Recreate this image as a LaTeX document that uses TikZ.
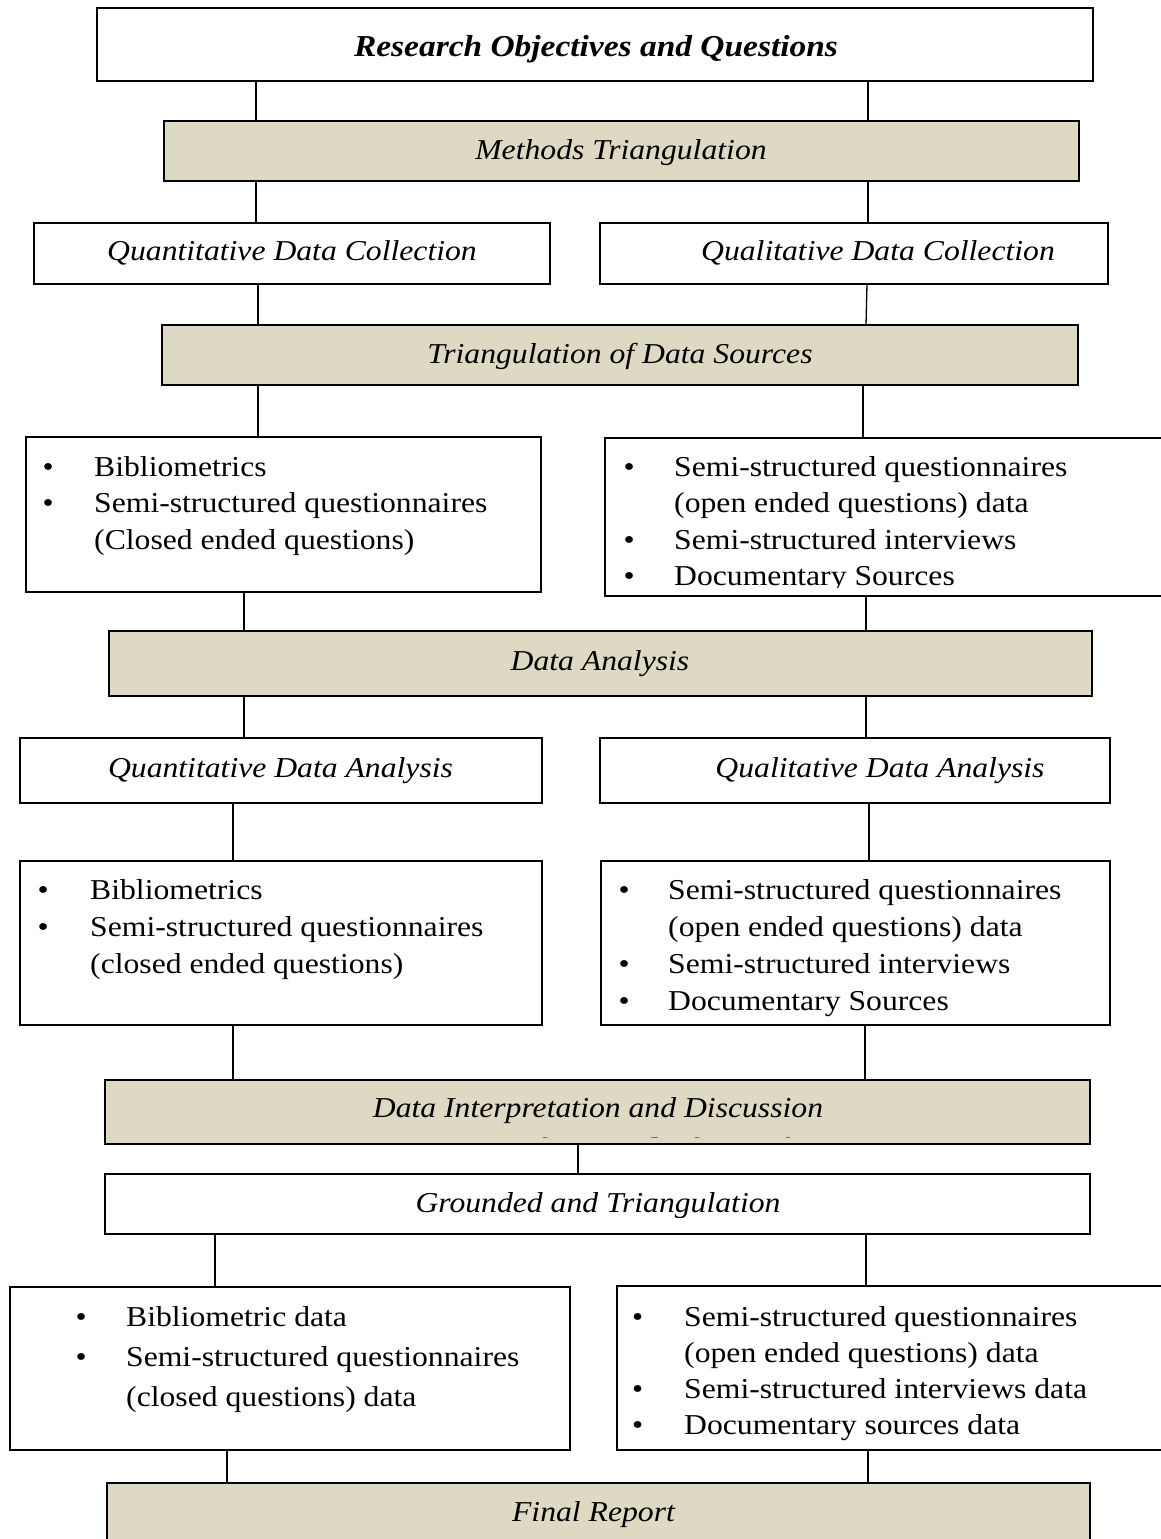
\documentclass[tikz,border=0pt]{standalone}
\usepackage{fontspec}
\setmainfont[FakeStretch=1.1]{Liberation Serif}
\definecolor{tan}{RGB}{221,217,195}
\tikzset{
  plainbox/.style={draw=black, line width=1.3pt, fill=white, inner sep=0pt, outer sep=0pt},
  tanbox/.style={plainbox, fill=tan},
  htext/.style={anchor=base, inner sep=0pt, font=\fontsize{28.8}{34}\selectfont\itshape},
  listtxt/.style={anchor=base west, inner sep=0pt},
  conn/.style={draw=black, line width=1.3pt},
  frag/.style={draw=black!55, line width=1pt}
}
\newcommand{\rbox}[6]{%
  \node[#1, minimum width={(#5-#3)*1pt}, minimum height={(#6-#4)*1pt}] (#2) at ({(#3+#5)/2},{(#4+#6)/2}) {};}
\newcommand{\blist}[6]{%
  \node[listtxt] (#1) at (#2,#3) {\fontsize{28.8}{#5}\selectfont\begin{tabular}[t]{@{}p{#4pt}@{}l@{}}#6\end{tabular}};}
\begin{document}
\begin{tikzpicture}[x=1pt,y=-1pt]
\useasboundingbox (0,0) rectangle (1160,1539);
% boxes
\rbox{plainbox}{ro}{97}{8}{1093}{81}
\rbox{tanbox}{mt}{164}{121}{1079}{181}
\rbox{plainbox}{qdc}{34}{223}{550}{284}
\rbox{plainbox}{qldc}{600}{223}{1108}{284}
\rbox{tanbox}{tds}{162}{325}{1078}{385}
\rbox{plainbox}{lb1}{26}{437}{541}{592}
\rbox{plainbox}{rb1}{605}{438}{1175}{596}
\rbox{tanbox}{da}{109}{631}{1092}{696}
\rbox{plainbox}{qda}{20}{738}{542}{803}
\rbox{plainbox}{qlda}{600}{738}{1110}{803}
\rbox{plainbox}{lb2}{20}{861}{542}{1025}
\rbox{plainbox}{rb2}{601}{861}{1110}{1025}
\rbox{tanbox}{dic}{105}{1080}{1090}{1144}
\rbox{plainbox}{gt}{105}{1174}{1090}{1234}
\rbox{plainbox}{lb3}{10}{1287}{570}{1450}
\rbox{plainbox}{rb3}{617}{1286}{1175}{1450}
\rbox{tanbox}{fr}{107}{1483}{1090}{1570}
% headings
\node[htext, font=\fontsize{30.4}{36}\selectfont\itshape\bfseries] (ro-t) at (596,56) {Research Objectives and Questions};
\node[htext] (mt-t) at (621,159) {Methods Triangulation};
\node[htext] (qdc-t) at (292,260) {Quantitative Data Collection};
\node[htext] (qldc-t) at (878,260) {Qualitative Data Collection};
\node[htext] (tds-t) at (620,363) {Triangulation of Data Sources};
\node[htext] (da-t) at (600,670) {Data Analysis};
\node[htext] (qda-t) at (280.5,777) {Quantitative Data Analysis};
\node[htext] (qlda-t) at (880,777) {Qualitative Data Analysis};
\node[htext] (dic-t) at (598,1117) {Data Interpretation and Discussion};
\node[htext] (gt-t) at (598,1212) {Grounded and Triangulation};
\node[htext] (fr-t) at (593.5,1521.5) {Final Report};
% fragments of cut text
\draw[frag] (543,1137) -- (547,1137);
\draw[frag] (651,1137) -- (658,1137);
\draw[frag] (695,1137) -- (699,1137);
\draw[frag] (786,1137) -- (790,1137);
% lists
\blist{lb1t}{42.5}{476}{51.5}{36.5}{\textbullet & Bibliometrics\\ \textbullet & Semi-structured questionnaires\\ & (Closed ended questions)}
\begin{scope}
\clip (600,430) rectangle (1160,587);
\blist{rb1t}{623.5}{476}{50.5}{36.5}{\textbullet & Semi-structured questionnaires\\ & (open ended questions) data\\ \textbullet & Semi-structured interviews\\ \textbullet & Documentary Sources}
\end{scope}
\blist{lb2t}{37.5}{899}{52.5}{37}{\textbullet & Bibliometrics\\ \textbullet & Semi-structured questionnaires\\ & (closed ended questions)}
\blist{rb2t}{618.5}{899}{49.5}{37}{\textbullet & Semi-structured questionnaires\\ & (open ended questions) data\\ \textbullet & Semi-structured interviews\\ \textbullet & Documentary Sources}
\blist{lb3t}{75.5}{1326}{50.5}{40}{\textbullet & Bibliometric data\\ \textbullet & Semi-structured questionnaires\\ & (closed questions) data}
\blist{rb3t}{632}{1326}{52}{36.3}{\textbullet & Semi-structured questionnaires\\ & (open ended questions) data\\ \textbullet & Semi-structured interviews data\\ \textbullet & Documentary sources data}
% connectors
\draw[conn] (ro.south -| 256,0) -- (mt.north -| 256,0);
\draw[conn] (ro.south -| 868,0) -- (mt.north -| 868,0);
\draw[conn] (mt.south -| 256,0) -- (qdc.north -| 256,0);
\draw[conn] (mt.south -| 868,0) -- (qldc.north -| 868,0);
\draw[conn] (qdc.south -| 258,0) -- (tds.north -| 258,0);
\draw[conn] (qldc.south -| 867,0) -- (tds.north -| 866,0);
\draw[conn] (tds.south -| 258,0) -- (lb1.north -| 258,0);
\draw[conn] (tds.south -| 863,0) -- (rb1.north -| 863,0);
\draw[conn] (lb1.south -| 244,0) -- (da.north -| 244,0);
\draw[conn] (rb1.south -| 866,0) -- (da.north -| 866,0);
\draw[conn] (da.south -| 244,0) -- (qda.north -| 244,0);
\draw[conn] (da.south -| 866,0) -- (qlda.north -| 866,0);
\draw[conn] (qda.south -| 233,0) -- (lb2.north -| 233,0);
\draw[conn] (qlda.south -| 869,0) -- (rb2.north -| 869,0);
\draw[conn] (lb2.south -| 233,0) -- (dic.north -| 233,0);
\draw[conn] (rb2.south -| 865,0) -- (dic.north -| 865,0);
\draw[conn] (dic.south -| 578,0) -- (gt.north -| 578,0);
\draw[conn] (gt.south -| 215,0) -- (lb3.north -| 215,0);
\draw[conn] (gt.south -| 866,0) -- (rb3.north -| 866,0);
\draw[conn] (lb3.south -| 227,0) -- (fr.north -| 227,0);
\draw[conn] (rb3.south -| 868,0) -- (fr.north -| 868,0);
\end{tikzpicture}
\end{document}
